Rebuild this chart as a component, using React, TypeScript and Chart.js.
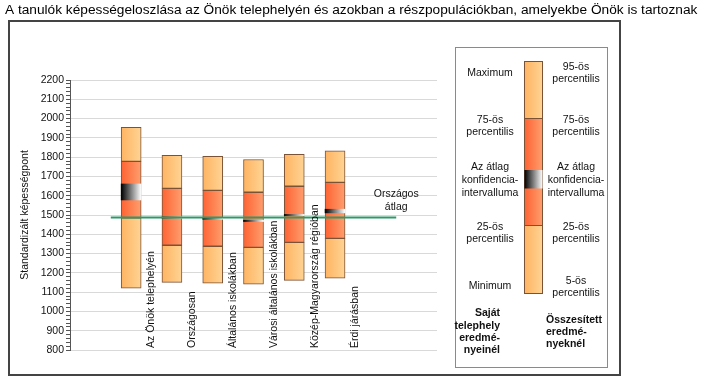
import React, { useEffect, useRef } from 'react';
import { Chart, registerables } from 'chart.js';

Chart.register(...registerables);

const FONT = '"Liberation Sans", Arial, sans-serif';

const titleText = 'A tanulók képességeloszlása az Önök telephelyén és azokban a részpopulációkban, amelyekbe Önök is tartoznak';
const yAxisTitle = 'Standardizált képességpont';
const categories = [
  'Az Önök telephelyén',
  'Országosan',
  'Általános iskolákban',
  'Városi általános iskolákban',
  'Közép-Magyarország régióban',
  'Érdi járásban',
];
// min (own site) / 5th percentile (aggregated)
const lowValues = [1120, 1151, 1146, 1141, 1161, 1173];
const q25Values = [1485, 1343, 1338, 1332, 1358, 1379];
const ciLowValues = [1578, 1484, 1478, 1466, 1497, 1511];
const ciHighValues = [1661, 1490, 1486, 1473, 1503, 1530];
const q75Values = [1778, 1638, 1628, 1618, 1649, 1669];
// max (own site) / 95th percentile (aggregated)
const highValues = [1955, 1809, 1804, 1788, 1815, 1833];
const nationalAverage = 1487;
const nationalLabel = ['Országos', 'átlag'];
const yMin = 800;
const yMax = 2200;
const yMajorStep = 100;
const yMinorStep = 20;

const legendLeft = [
  { lines: ['Maximum'], ys: [73] },
  { lines: ['75-ös', 'percentilis'], ys: [120, 132.5] },
  { lines: ['Az átlag', 'konfidencia-', 'intervalluma'], ys: [167.5, 180, 193] },
  { lines: ['25-ös', 'percentilis'], ys: [227, 239.5] },
  { lines: ['Minimum'], ys: [286.5] },
];
const legendRight = [
  { lines: ['95-ös', 'percentilis'], ys: [67.5, 79.5] },
  { lines: ['75-ös', 'percentilis'], ys: [120, 132.5] },
  { lines: ['Az átlag', 'konfidencia-', 'intervalluma'], ys: [167.5, 180, 193] },
  { lines: ['25-ös', 'percentilis'], ys: [227, 239.5] },
  { lines: ['5-ös', 'percentilis'], ys: [281, 293.5] },
];
const legendOwnTitle = ['Saját', 'telephely', 'eredmé-', 'nyeinél'];
const legendAllTitle = ['Összesített', 'eredmé-', 'nyeknél'];

const LIGHT = ['#FFB462', '#FFD494'];
const DARK = ['#FF6333', '#FF9E6E'];
const CI = ['#000000', '#FFFFFF'];
const BORDER = '#7A5236';
const GREEN = '#2A9A68';

function gradFill(cols: string[]) {
  return (ctx: any) => {
    const chart = ctx.chart;
    const xs = chart.scales && chart.scales.x;
    if (ctx.type !== 'data' || !xs || !ctx.raw) return cols[0];
    const cx = xs.getPixelForValue(ctx.raw.x);
    if (!isFinite(cx)) return cols[0];
    const g = chart.ctx.createLinearGradient(cx - 10, 0, cx + 10, 0);
    g.addColorStop(0, cols[0]);
    g.addColorStop(1, cols[1]);
    return g;
  };
}

function rangeData(lo: number[], hi: number[]) {
  return lo.map((v, i) => ({ x: i, y: [v, hi[i]] }));
}

const decorPlugin = {
  id: 'decor',
  beforeDraw(chart: any) {
    const ctx = chart.ctx;
    ctx.save();
    ctx.fillStyle = '#ffffff';
    ctx.fillRect(0, 0, chart.width, chart.height);
    // title
    ctx.fillStyle = '#000';
    ctx.font = `13.7px ${FONT}`;
    ctx.textAlign = 'left';
    ctx.textBaseline = 'alphabetic';
    ctx.fillText(titleText, 5, 13.5);
    // outer frame
    ctx.strokeStyle = '#444';
    ctx.lineWidth = 2;
    ctx.strokeRect(9, 21, 611, 354);
    // y axis title
    ctx.save();
    ctx.translate(25, (chart.chartArea.top + chart.chartArea.bottom) / 2);
    ctx.rotate(-Math.PI / 2);
    ctx.font = `10.5px ${FONT}`;
    ctx.fillStyle = '#111';
    ctx.textAlign = 'center';
    ctx.textBaseline = 'middle';
    ctx.fillText(yAxisTitle, 0, 0);
    ctx.restore();
    // legend panel
    ctx.strokeStyle = '#8a8a8a';
    ctx.lineWidth = 1;
    ctx.strokeRect(455.5, 47.5, 152, 320);
    const bx = 524.5, bw = 18;
    const seg = (y0: number, y1: number, cols: string[], border: boolean) => {
      const g = ctx.createLinearGradient(bx, 0, bx + bw, 0);
      g.addColorStop(0, cols[0]);
      g.addColorStop(1, cols[1]);
      ctx.fillStyle = g;
      ctx.fillRect(bx, y0, bw, y1 - y0);
      if (border) {
        ctx.strokeStyle = BORDER;
        ctx.lineWidth = 1;
        ctx.strokeRect(bx, y0, bw, y1 - y0);
      }
    };
    seg(61.5, 118.5, LIGHT, true);
    seg(118.5, 225.5, DARK, true);
    seg(225.5, 293.5, LIGHT, true);
    seg(170, 188.5, CI, false);
    ctx.fillStyle = '#111';
    ctx.font = `10.5px ${FONT}`;
    ctx.textAlign = 'center';
    ctx.textBaseline = 'middle';
    legendLeft.forEach((e) => e.lines.forEach((l, i) => ctx.fillText(l, 490, e.ys[i])));
    legendRight.forEach((e) => e.lines.forEach((l, i) => ctx.fillText(l, 576, e.ys[i])));
    ctx.font = `bold 10.5px ${FONT}`;
    ctx.textAlign = 'right';
    const ownYs = [313.5, 326, 338, 350];
    legendOwnTitle.forEach((l, i) => ctx.fillText(l, 500, ownYs[i]));
    ctx.textAlign = 'left';
    const allYs = [320.5, 332.5, 344];
    legendAllTitle.forEach((l, i) => ctx.fillText(l, 546, allYs[i]));
    ctx.restore();
  },
  afterDatasetsDraw(chart: any) {
    const ctx = chart.ctx;
    const xs = chart.scales.x;
    const ys = chart.scales.y;
    ctx.save();
    ctx.fillStyle = '#111';
    ctx.font = `10.5px ${FONT}`;
    ctx.textBaseline = 'middle';
    ctx.textAlign = 'left';
    categories.forEach((c, i) => {
      const x = xs.getPixelForValue(i + 0.5);
      ctx.save();
      ctx.translate(x, ys.bottom - 2);
      ctx.rotate(-Math.PI / 2);
      ctx.fillText(c, 0, 0);
      ctx.restore();
    });
    const lx = xs.getPixelForValue(6.5);
    const ly = ys.getPixelForValue(nationalAverage);
    ctx.textAlign = 'center';
    ctx.fillText(nationalLabel[0], lx, ly - 23);
    ctx.fillText(nationalLabel[1], lx, ly - 10.5);
    ctx.restore();
  },
};

export default function App() {
  const ref = useRef<HTMLCanvasElement | null>(null);
  useEffect(() => {
    if (!ref.current) return;
    Chart.defaults.font.family = FONT;
    const barCommon = {
      type: 'bar' as const,
      grouped: false,
      barThickness: 20,
      borderWidth: 1,
      borderColor: BORDER,
      borderSkipped: false,
    };
    const chart = new Chart(ref.current, {
      type: 'bar',
      data: {
        datasets: [
          {
            type: 'line',
            label: 'Országos átlag',
            data: [
              { x: -0.5, y: nationalAverage },
              { x: 6.5, y: nationalAverage },
            ],
            borderColor: GREEN,
            borderWidth: 2,
            pointRadius: 0,
            fill: false,
            order: 0,
          } as any,
          { ...barCommon, label: 'CI', data: rangeData(ciLowValues, ciHighValues), backgroundColor: gradFill(CI), borderWidth: 0, order: 1 } as any,
          { ...barCommon, label: 'low', data: rangeData(lowValues, q25Values), backgroundColor: gradFill(LIGHT), order: 2 } as any,
          { ...barCommon, label: 'mid', data: rangeData(q25Values, q75Values), backgroundColor: gradFill(DARK), order: 2 } as any,
          { ...barCommon, label: 'high', data: rangeData(q75Values, highValues), backgroundColor: gradFill(LIGHT), order: 2 } as any,
        ],
      },
      options: {
        animation: false,
        responsive: false,
        devicePixelRatio: 1,
        events: [],
        layout: { padding: { left: 8, top: 80, right: 267, bottom: 30 } },
        plugins: { legend: { display: false }, tooltip: { enabled: false }, title: { display: false } },
        scales: {
          x: { type: 'linear', min: -1.5, max: 7.5, offset: false, display: false },
          y: {
            type: 'linear',
            min: yMin,
            max: yMax,
            afterFit: (s: any) => { s.width = 62; },
            border: { display: true, color: '#555', width: 1 },
            grid: {
              color: (c: any) => (c.tick && c.tick.value % yMajorStep === 0 ? '#d9d9d9' : 'rgba(0,0,0,0)'),
              tickColor: '#555',
              tickLength: 4,
              lineWidth: 1,
            },
            ticks: {
              stepSize: yMinorStep,
              autoSkip: false,
              padding: 2,
              color: '#111',
              font: { size: 10.5, family: FONT },
              callback: (v: any) => (Number(v) % yMajorStep === 0 ? String(v) : ''),
            },
          },
        },
      } as any,
      plugins: [decorPlugin],
    });
    return () => chart.destroy();
  }, []);
  return (
    <div style={{ position: 'absolute', left: 0, top: 0, width: 704, height: 380, background: '#fff' }}>
      <canvas ref={ref} width={704} height={380} style={{ display: 'block' }} />
    </div>
  );
}
